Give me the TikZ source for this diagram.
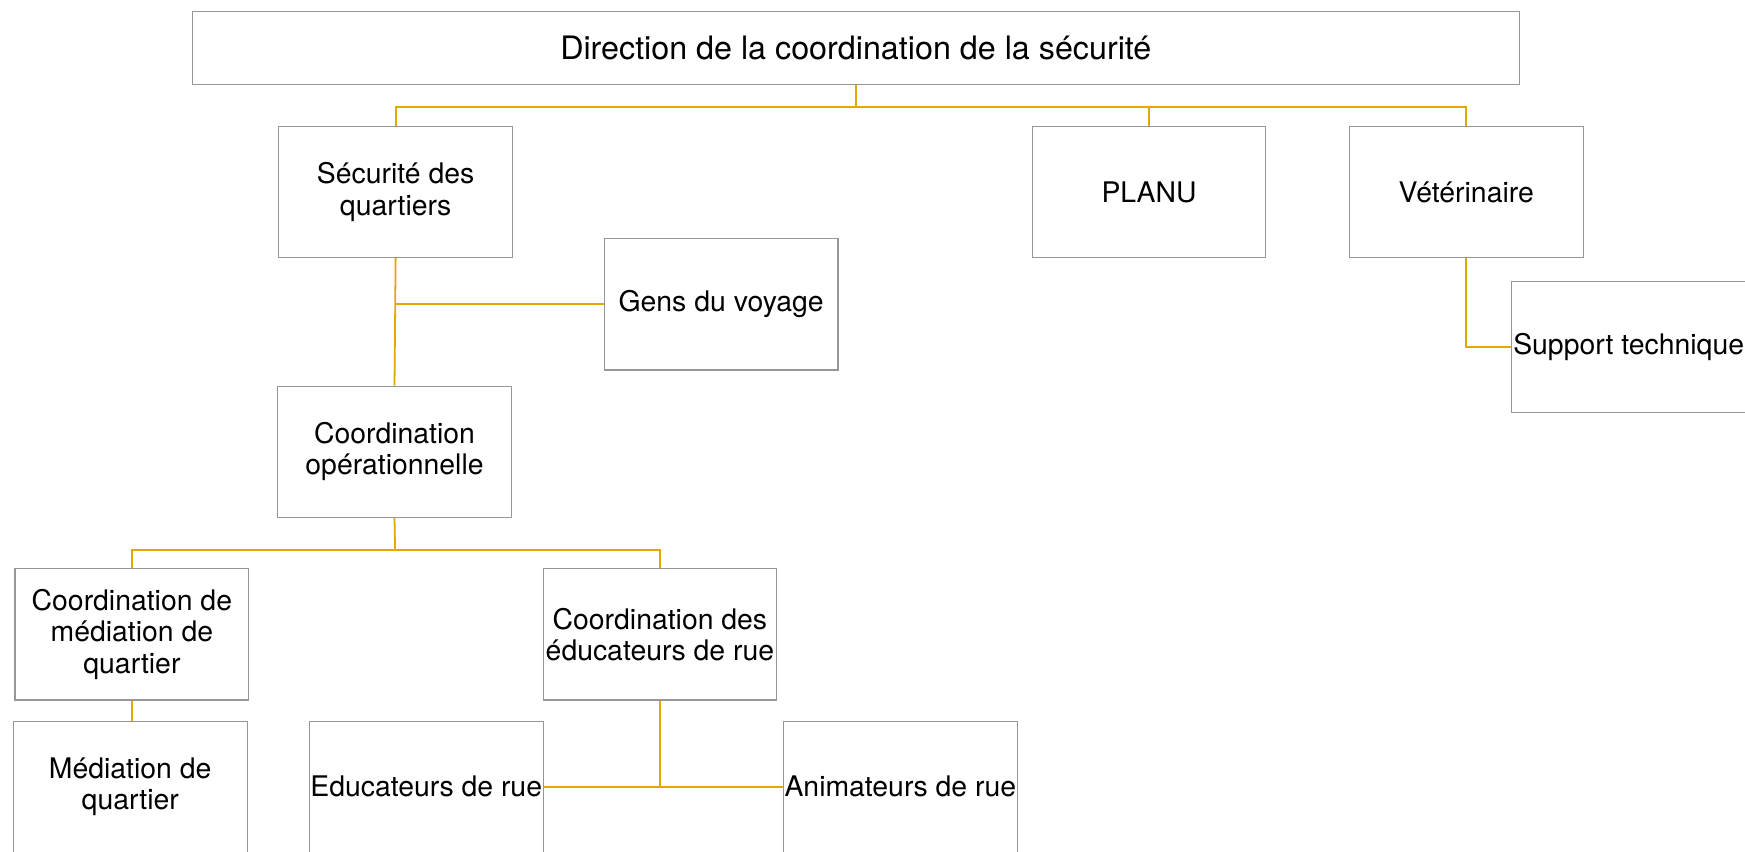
\documentclass[tikz,border=0pt]{standalone}
\usepackage{fontspec}
\setmainfont{TeX Gyre Heros}
\definecolor{conn}{RGB}{224,168,0}
\definecolor{boxline}{RGB}{150,150,150}
\begin{document}
\begin{tikzpicture}[x=1pt,y=-1pt,
  box/.style={draw=boxline,line width=1pt,fill=white,minimum width=210pt,minimum height=118pt,
    inner sep=1pt,align=center,font=\fontsize{25.5}{28}\selectfont},
  link/.style={draw=conn,line width=1.6pt}]
\useasboundingbox (0,0) rectangle (1568,765);
\node[box,minimum width=1192pt,minimum height=66pt,font=\fontsize{29}{32}\selectfont] (top) at (769,43) {Direction de la coordination de la sécurité};
\node[box] (sec) at (355.5,172.5) {Sécurité des\\quartiers};
\node[box] (planu) at (1032.5,172.5) {PLANU};
\node[box] (vet) at (1317.5,172.5) {Vétérinaire};
\node[box] (gens) at (648,273.5) {Gens du voyage};
\node[box] (sup) at (1463.5,312) {Support technique};
\node[box] (coord) at (354.5,406) {Coordination\\opérationnelle};
\node[box] (cmed) at (118.5,570) {Coordination de\\médiation de\\quartier};
\node[box] (cedu) at (593,570) {Coordination des\\éducateurs de rue};
\node[box] (med) at (117,707) {Médiation de\\quartier};
\node[box] (edr) at (383,707) {Educateurs de rue};
\node[box] (anim) at (809,707) {Animateurs de rue};
\coordinate (bus1) at (769,96);
\coordinate (bus2) at (355,494);
\draw[link] (top.south) -- (bus1);
\draw[link] (sec.north) |- (bus1);
\draw[link] (planu.north) |- (bus1);
\draw[link] (vet.north) |- (bus1);
\draw[link] (sec.south) -- (coord.north);
\draw[link] (gens.west) -- (gens.west -| sec.south);
\draw[link] (vet.south) |- (sup.west);
\draw[link] (coord.south) -- (bus2);
\draw[link] (cmed.north) |- (bus2);
\draw[link] (cedu.north) |- (bus2);
\draw[link] (cmed.south) -- (cmed.south |- med.north);
\draw[link] (cedu.south) -- (cedu.south |- edr.east);
\draw[link] (edr.east) -- (anim.west);
\end{tikzpicture}
\end{document}
